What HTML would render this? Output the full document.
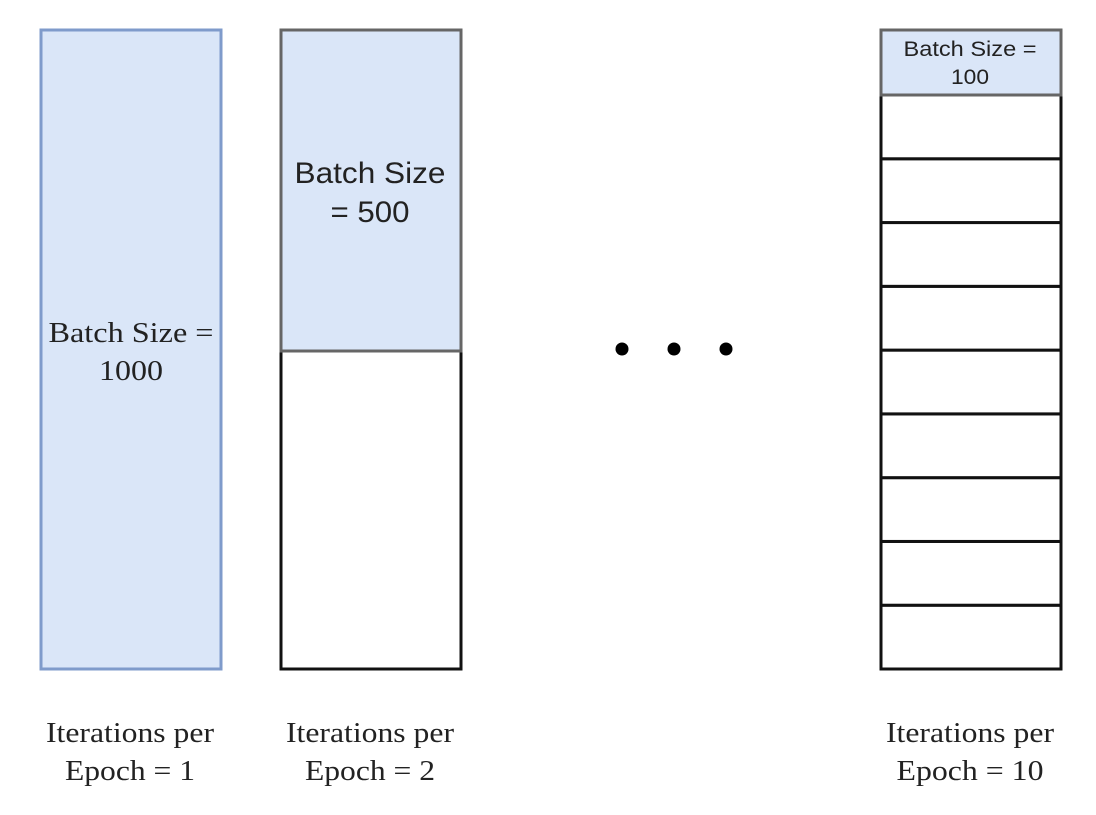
<!DOCTYPE html>
<html><head><meta charset="utf-8"><style>
body{margin:0;background:#fff;width:1096px;height:810px;overflow:hidden}
</style></head><body>
<svg width="1096" height="810" xmlns="http://www.w3.org/2000/svg">
<g>
<rect x="41" y="30" width="180" height="639" fill="#dae6f8" stroke="#7f9bcb" stroke-width="3"/>
<text x="131" y="342" font-family="Liberation Serif, serif" font-size="29" text-anchor="middle" fill="#222" textLength="165" lengthAdjust="spacingAndGlyphs">Batch Size =</text>
<text x="131" y="380" font-family="Liberation Serif, serif" font-size="29" text-anchor="middle" fill="#222" textLength="64" lengthAdjust="spacingAndGlyphs">1000</text>
</g>
<g>
<rect x="281" y="351" width="180" height="318" fill="#fff" stroke="#111" stroke-width="3"/>
<rect x="281" y="30" width="180" height="321" fill="#dae6f8" stroke="#666" stroke-width="3"/>
<text x="370" y="183" font-family="Liberation Sans, sans-serif" font-size="30" text-anchor="middle" fill="#222" textLength="151" lengthAdjust="spacingAndGlyphs">Batch Size</text>
<text x="370" y="222" font-family="Liberation Sans, sans-serif" font-size="30" text-anchor="middle" fill="#222" textLength="79" lengthAdjust="spacingAndGlyphs">= 500</text>
</g>
<g>
<circle cx="622" cy="349" r="6.5" fill="#000"/>
<circle cx="674" cy="349" r="6.5" fill="#000"/>
<circle cx="726" cy="349" r="6.5" fill="#000"/>
</g>
<g id="g3">
<rect x="881" y="30" width="180" height="65" fill="#dae6f8" stroke="#666" stroke-width="3"/>
<text x="970" y="56" font-family="Liberation Sans, sans-serif" font-size="21" text-anchor="middle" fill="#222" textLength="133" lengthAdjust="spacingAndGlyphs">Batch Size =</text>
<text x="970" y="84" font-family="Liberation Sans, sans-serif" font-size="21" text-anchor="middle" fill="#222" textLength="38" lengthAdjust="spacingAndGlyphs">100</text>
</g>
<g font-family="Liberation Serif, serif" font-size="29" text-anchor="middle" fill="#222">
<text x="130" y="742" textLength="168" lengthAdjust="spacingAndGlyphs">Iterations per</text>
<text x="130" y="780" textLength="130" lengthAdjust="spacingAndGlyphs">Epoch = 1</text>
<text x="370" y="742" textLength="168" lengthAdjust="spacingAndGlyphs">Iterations per</text>
<text x="370" y="780" textLength="130" lengthAdjust="spacingAndGlyphs">Epoch = 2</text>
<text x="970" y="742" textLength="168" lengthAdjust="spacingAndGlyphs">Iterations per</text>
<text x="970" y="780" textLength="147" lengthAdjust="spacingAndGlyphs">Epoch = 10</text>
</g>
</svg>
<script>
var g=document.getElementById('g3');
for(var i=0;i<9;i++){
var r=document.createElementNS('http://www.w3.org/2000/svg','rect');


var y0=95+i*574/9;
r.setAttribute('x',881);r.setAttribute('y',y0);r.setAttribute('width',180);r.setAttribute('height',574/9);
r.setAttribute('fill','#fff');r.setAttribute('stroke','#111');r.setAttribute('stroke-width',3);
g.insertBefore(r,g.firstChild);
}
</script>
</body></html>
